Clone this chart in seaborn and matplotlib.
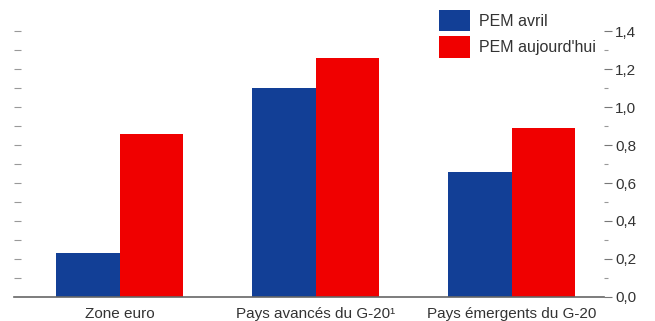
import numpy as np
import pandas as pd
import matplotlib
matplotlib.use("Agg")
import matplotlib.pyplot as plt
from matplotlib.ticker import MultipleLocator, FuncFormatter
import seaborn as sns

categories = ["Zone euro", "Pays avancés du G-20\u00b9", "Pays émergents du G-20"]
series_names = ["PEM avril", "PEM aujourd'hui"]
pem_avril = [0.23, 1.10, 0.66]
pem_aujourdhui = [0.86, 1.26, 0.89]
colors = ["#123f96", "#f00000"]

df = pd.DataFrame({
    "cat": categories * 2,
    "serie": [series_names[0]] * 3 + [series_names[1]] * 3,
    "val": pem_avril + pem_aujourdhui,
})

sns.set_theme(style="white")
plt.rcParams["font.family"] = ["Liberation Sans", "DejaVu Sans"]
plt.rcParams["text.color"] = "#333333"

fig = plt.figure(figsize=(6.55, 3.21), dpi=100, facecolor="white")
ax = fig.add_axes([0.021, 0.075, 0.901, 0.828])
sns.barplot(data=df, x="cat", y="val", hue="serie", palette=colors,
            width=0.65, gap=0, saturation=1, linewidth=0, ax=ax, legend=True)

ax.set_xlim(-0.54, 2.47)
ax.set_ylim(0, 1.4)
ax.set_xlabel("")
ax.set_ylabel("")
for s in ["top", "left", "right"]:
    ax.spines[s].set_visible(False)
ax.spines["bottom"].set_color("#666666")
ax.spines["bottom"].set_linewidth(1.2)

ax.yaxis.tick_right()
ax.yaxis.set_major_locator(MultipleLocator(0.2))
ax.yaxis.set_minor_locator(MultipleLocator(0.1))
ax.yaxis.set_major_formatter(FuncFormatter(lambda v, p: f"{v:.1f}".replace(".", ",")))
ax.tick_params(axis="y", which="major", right=True, left=False, length=6, width=0.8,
               color="#777777", pad=2, labelsize=11, labelcolor="#333333")
ax.tick_params(axis="y", which="minor", right=True, left=False, length=3, width=0.8,
               color="#999999")
ax.tick_params(axis="x", bottom=False, labelsize=11, labelcolor="#333333", pad=1)

sec = ax.secondary_yaxis("left")
sec.set_yticks(np.arange(0.1, 1.45, 0.1))
sec.set_yticklabels([])
sec.tick_params(axis="y", direction="in", length=5, width=0.8, color="#999999")
sec.spines["left"].set_visible(False)

h, l = ax.get_legend_handles_labels()
ax.legend(h, l, loc="upper left", bbox_to_anchor=(0.71, 1.105), frameon=False,
          fontsize=11.5, handlelength=1.9, handleheight=1.7, labelspacing=0.3,
          handletextpad=0.6, borderaxespad=0)

fig.savefig("out.png", dpi=100, facecolor="white")
